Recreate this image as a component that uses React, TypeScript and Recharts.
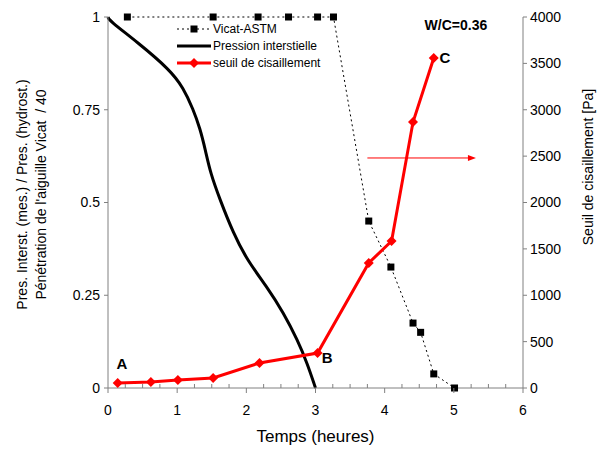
import { ComposedChart, Line, XAxis, YAxis, Legend, ReferenceDot, ReferenceLine } from "recharts"

const xTicks = [0, 0.25, 0.5, 0.75, 1, 1.25, 1.5, 1.75, 2, 2.25, 2.5, 2.75, 3, 3.25, 3.5, 3.75, 4, 4.25, 4.5, 4.75, 5, 5.25, 5.5, 5.75, 6]
const leftTicks = [0, 0.25, 0.5, 0.75, 1]
const rightTicks = [0, 500, 1000, 1500, 2000, 2500, 3000, 3500, 4000]

const vicatTime = [0.28, 1.52, 2.17, 2.61, 3.03, 3.26, 3.77, 4.09, 4.41, 4.52, 4.71, 5.01]
const vicatValue = [1, 1, 1, 1, 1, 1, 0.45, 0.326, 0.175, 0.15, 0.038, 0]

const pressTime = [0, 0.02, 0.42, 0.9, 1.09, 1.23, 1.33, 1.41, 1.48, 1.62, 1.81, 2.01, 2.3, 2.54, 2.74, 2.88, 3.0]
const pressValue = [1, 0.99, 0.933, 0.857, 0.809, 0.752, 0.7, 0.64, 0.58, 0.507, 0.418, 0.345, 0.272, 0.202, 0.129, 0.067, 0]

const seuilTime = [0.14, 0.62, 1.01, 1.52, 2.19, 3.03, 3.77, 4.1, 4.41, 4.71]
const seuilValue = [54, 65, 86, 108, 270, 377, 1348, 1585, 2868, 3558]

const vicat = vicatTime.map((t, i) => ({ t, v: vicatValue[i] }))
const press = pressTime.map((t, i) => ({ t, p: pressValue[i] }))
const seuil = seuilTime.map((t, i) => ({ t, s: seuilValue[i] }))

const FONT = "'Liberation Sans', Arial, sans-serif"
const AXIS = "#808080"

const XTick = (props: any) => {
  const { x, y, payload } = props
  const v = payload.value
  const major = Number.isInteger(v)
  return (
    <g>
      <line x1={x} x2={x} y1={y} y2={major ? y + 5 : y - 4} stroke={AXIS} />
      {major && (
        <text x={x} y={y + 27} textAnchor="middle" fontSize={14} fill="#000" fontFamily={FONT}>
          {v}
        </text>
      )}
    </g>
  )
}

const Square = (props: any) => {
  const { cx, cy } = props
  if (cx == null || cy == null) return null
  return <rect x={cx - 3.5} y={cy - 3.5} width={7} height={7} fill="#000" />
}

const Diamond = (props: any) => {
  const { cx, cy } = props
  if (cx == null || cy == null) return null
  return <polygon points={`${cx},${cy - 5} ${cx + 5},${cy} ${cx},${cy + 5} ${cx - 5},${cy}`} fill="#ff0000" />
}

const Arrow = (props: any) => {
  const { x1, y1, x2, y2 } = props
  return (
    <g>
      <line x1={x1} y1={y1} x2={x2 - 6} y2={y2} stroke="#ff0000" strokeWidth={1} />
      <polygon points={`${x2},${y2} ${x2 - 8},${y2 - 3} ${x2 - 8},${y2 + 3}`} fill="#ff0000" />
    </g>
  )
}

const renderLegend = () => (
  <svg width={170} height={60} style={{ display: "block" }}>
    <g fontFamily={FONT} fontSize={12} fill="#000">
      <line x1={2} x2={36} y1={11} y2={11} stroke="#000" strokeDasharray="2 3" />
      <rect x={15.5} y={7.5} width={7} height={7} fill="#000" />
      <text x={38} y={15}>Vicat-ASTM</text>
      <line x1={2} x2={36} y1={28} y2={28} stroke="#000" strokeWidth={3} />
      <text x={38} y={32}>Pression interstielle</text>
      <line x1={2} x2={36} y1={45} y2={45} stroke="#ff0000" strokeWidth={3} />
      <polygon points="19,40 24,45 19,50 14,45" fill="#ff0000" />
      <text x={38} y={49}>seuil de cisaillement</text>
    </g>
  </svg>
)

const LeftLabel = (props: any) => {
  const { viewBox } = props
  const cy = viewBox.y + viewBox.height / 2 - 8
  return (
    <g fontFamily={FONT} fontSize={14} fill="#000">
      <text x={27} y={cy} transform={`rotate(-90, 27, ${cy})`} textAnchor="middle">
        Pres. Interst. (mes.) / Pres. (hydrost.)
      </text>
      <text x={46} y={cy} transform={`rotate(-90, 46, ${cy})`} textAnchor="middle">
        {"Pénétration de l'aiguille Vicat\u00a0 / 40"}
      </text>
    </g>
  )
}

const RightLabel = () => (
  <text x={593} y={167} transform="rotate(-90, 593, 167)" textAnchor="middle" fontFamily={FONT} fontSize={14} fill="#000">
    Seuil de cisaillement [Pa]
  </text>
)

export default function App() {
  return (
    <div style={{ position: "absolute", left: 0, top: 0, background: "#fff" }}>
      <ComposedChart width={605} height={450} margin={{ top: 17, right: 0, bottom: 0, left: 0 }}>
        <XAxis
          type="number"
          dataKey="t"
          domain={[0, 6]}
          ticks={xTicks}
          interval={0}
          height={62}
          stroke={AXIS}
          tickLine={false}
          tickSize={0}
          tickMargin={0}
          tick={<XTick />}
          label={{ value: "Temps (heures)", position: "insideBottom", offset: 8, fill: "#000", fontSize: 17, fontFamily: FONT }}
          allowDuplicatedCategory={false}
        />
        <YAxis
          yAxisId="left"
          type="number"
          domain={[0, 1]}
          ticks={leftTicks}
          width={108}
          stroke={AXIS}
          tickSize={4}
          tickMargin={4}
          tick={{ fill: "#000", fontSize: 14, fontFamily: FONT }}
          label={<LeftLabel />}
        />
        <YAxis
          yAxisId="right"
          orientation="right"
          type="number"
          domain={[0, 4000]}
          ticks={rightTicks}
          width={82}
          stroke={AXIS}
          tickSize={4}
          tickMargin={3}
          tick={{ fill: "#000", fontSize: 14, fontFamily: FONT, textAnchor: "start" }}
          label={<RightLabel />}
        />
        <Legend content={renderLegend} layout="vertical" align="center" verticalAlign="middle" wrapperStyle={{ top: 18, left: 175, width: 170 }} />
        <Line
          yAxisId="left"
          data={vicat}
          dataKey="v"
          name="Vicat-ASTM"
          stroke="#000"
          strokeWidth={1}
          strokeDasharray="2 3"
          type="linear"
          dot={<Square />}
          isAnimationActive={false}
        />
        <Line
          yAxisId="left"
          data={press}
          dataKey="p"
          name="Pression interstielle"
          stroke="#000"
          strokeWidth={3}
          type="basis"
          dot={false}
          isAnimationActive={false}
        />
        <Line
          yAxisId="right"
          data={seuil}
          dataKey="s"
          name="seuil de cisaillement"
          stroke="#ff0000"
          strokeWidth={3}
          type="linear"
          dot={<Diamond />}
          isAnimationActive={false}
        />
        <ReferenceLine
          yAxisId="left"
          segment={[{ x: 3.75, y: 0.62 }, { x: 5.32, y: 0.62 }]}
          shape={<Arrow />}
        />
        <ReferenceDot yAxisId="right" x={0.2} y={259} r={0} label={{ value: "A", fill: "#000", fontSize: 15, fontWeight: "bold", fontFamily: FONT }} />
        <ReferenceDot yAxisId="right" x={3.17} y={323} r={0} label={{ value: "B", fill: "#000", fontSize: 15, fontWeight: "bold", fontFamily: FONT }} />
        <ReferenceDot yAxisId="right" x={4.87} y={3558} r={0} label={{ value: "C", fill: "#000", fontSize: 15, fontWeight: "bold", fontFamily: FONT }} />
        <ReferenceDot yAxisId="left" x={5.03} y={0.978} r={0} label={{ value: "W/C=0.36", fill: "#000", fontSize: 14, fontWeight: "bold", fontFamily: FONT }} />
      </ComposedChart>
    </div>
  )
}
